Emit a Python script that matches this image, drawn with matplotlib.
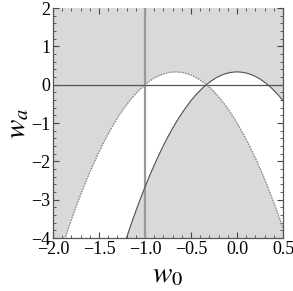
import numpy as np
import matplotlib
matplotlib.use("Agg")
import matplotlib.pyplot as plt
from matplotlib.ticker import MultipleLocator

# Data: two parabolic boundaries w_a(w0)
xlim = [-2.0, 0.5]
ylim = [-4.0, 2.0]
xticks = [-2.0, -1.5, -1.0, -0.5, 0.0, 0.5]
yticks = [-4, -3, -2, -1, 0, 1, 2]
# curve A: w_a = a2*w0^2 + a1*w0 + a0 ; curve B: w_a = b2*w0^2 + b0
curveA_coef = [-3.0, -4.0, -1.0]
curveB_coef = [-3.0, 0.0, 1.0 / 3.0]
vline_x = -1.0
hline_y = 0.0

plt.rcParams['font.family'] = ['Liberation Serif', 'DejaVu Serif']
plt.rcParams['mathtext.fontset'] = 'stix'

fig = plt.figure(figsize=(2.93, 2.91), dpi=100)
ax = fig.add_axes([0.181, 0.182, 0.785, 0.7905])

w0 = np.linspace(xlim[0], xlim[1], 800)
A = np.polyval(curveA_coef, w0)
B = np.polyval(curveB_coef, w0)

wy = np.linspace(ylim[0], ylim[1], 900)
X, Y = np.meshgrid(w0, wy)
Z = ((Y - np.polyval(curveA_coef, X)) * (Y - np.polyval(curveB_coef, X)) > 0).astype(float)
ax.contourf(X, Y, Z, levels=[0.5, 1.5], colors=['#d9d9d9'])

ax.axvline(vline_x, color='#999999', lw=1.6, zorder=3)
ax.axhline(hline_y, color='#555555', lw=0.9, zorder=3)
ax.plot(w0, A, color='#888888', lw=1.0, ls=(0, (1, 1)), zorder=4)
ax.plot(w0, B, color='#555555', lw=0.8, zorder=4)

ax.set_xlim(xlim)
ax.set_ylim(ylim)
ax.set_xticks(xticks)
ax.set_xticklabels([f"{v:.1f}".replace('-', '\u2212') for v in xticks])
ax.set_yticks(yticks)
ax.set_yticklabels([f"{v}".replace('-', '\u2212') for v in yticks])
ax.xaxis.set_minor_locator(MultipleLocator(0.1))
ax.yaxis.set_minor_locator(MultipleLocator(0.2))
ax.tick_params(which='both', direction='in', top=True, right=True, labelsize=13, colors='#444444', labelcolor='black', pad=2)
ax.tick_params(which='major', length=4, width=0.8)
ax.tick_params(which='minor', length=2, width=0.6)
for s in ['left', 'bottom', 'right']:
    ax.spines[s].set_color('#555555')
    ax.spines[s].set_linewidth(0.9)
ax.spines['top'].set_visible(False)

ax.set_xlabel(r'$w_0$', fontsize=21, labelpad=3)
ax.set_ylabel(r'$w_a$', fontsize=21, labelpad=0)

fig.savefig('out.png', dpi=100)
